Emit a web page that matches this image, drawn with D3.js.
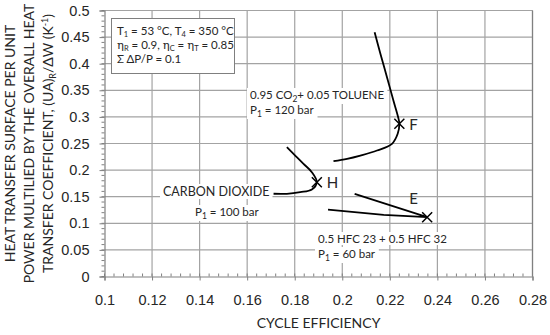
<!DOCTYPE html>
<html>
<head>
<meta charset="utf-8">
<script src="https://cdn.jsdelivr.net/npm/d3@7"></script>
<style>
  body { margin: 0; background: #fff; }
  svg { font-family: Lato, "Open Sans", sans-serif; }
</style>
</head>
<body>
<div id="chart"></div>
<script>
// values
var xTicks = [0.1, 0.12, 0.14, 0.16, 0.18, 0.2, 0.22, 0.24, 0.26, 0.28];
var yTicks = [0, 0.05, 0.1, 0.15, 0.2, 0.25, 0.3, 0.35, 0.4, 0.45, 0.5];

// 0.95 CO2 + 0.05 toluene, P1 = 120 bar
var curveF = [[0.2136, 0.4592], [0.2160, 0.4192], [0.2188, 0.3746], [0.2215, 0.3308],
  [0.2235, 0.2994], [0.2240, 0.2870], [0.2233, 0.2682], [0.2209, 0.2494],
  [0.2146, 0.2368], [0.2076, 0.2274], [0.2020, 0.2212], [0.1963, 0.2167]];
// carbon dioxide, P1 = 100 bar
var curveH = [[0.1767, 0.2430], [0.1802, 0.2274], [0.1837, 0.2118], [0.1872, 0.1961],
  [0.1893, 0.1773], [0.1872, 0.1635], [0.1823, 0.1585], [0.1767, 0.1555], [0.1711, 0.1555]];
// 0.5 HFC 23 + 0.5 HFC 32, P1 = 60 bar
var curveE = [[0.2052, 0.1555], [0.2357, 0.1115], [0.2174, 0.1160], [0.1940, 0.1259]];

var points = [
  {name: "F", x: 0.2240, y: 0.2870},
  {name: "H", x: 0.1893, y: 0.1773},
  {name: "E", x: 0.2357, y: 0.1115}
];

var width = 550, height = 335;
var x = d3.scaleLinear().domain([0.1, 0.28]).range([104.5, 532.5]);
var y = d3.scaleLinear().domain([0, 0.5]).range([276.5, 10.5]);

var svg = d3.select("#chart").append("svg")
  .attr("width", width)
  .attr("height", height);

var gridc = "#a3a3a3", axisc = "#808080", textc = "#262626";

// grid
var grid = svg.append("g").attr("class", "grid");
grid.selectAll("line.vx")
  .data(xTicks.slice(1))
  .enter().append("line").attr("class", "vx")
  .attr("x1", function(d){ return x(d); })
  .attr("x2", function(d){ return x(d); })
  .attr("y1", y(0)).attr("y2", y(0.5))
  .attr("stroke", gridc).attr("stroke-width", 1.2);

grid.selectAll("line.hy")
  .data(yTicks.slice(1))
  .enter().append("line").attr("class", "hy")
  .attr("y1", function(d){ return y(d); })
  .attr("y2", function(d){ return y(d); })
  .attr("x1", x(0.1)).attr("x2", x(0.28))
  .attr("stroke", gridc).attr("stroke-width", 1.2);

// right border
svg.append("line")
  .attr("x1", x(0.28)).attr("x2", x(0.28))
  .attr("y1", y(0)).attr("y2", y(0.5))
  .attr("stroke", axisc).attr("stroke-width", 1.2);

// axes
var fmt = function(d){ return String(+d.toFixed(2)); };
var xAxis = d3.axisBottom(x).tickValues(xTicks).tickSize(4).tickPadding(14).tickFormat(fmt);
var gx = svg.append("g").attr("transform", "translate(0," + y(0) + ")").call(xAxis);

var yAxis = d3.axisLeft(y).tickValues(yTicks).tickSize(5).tickPadding(10).tickFormat(fmt);
var gy = svg.append("g").attr("transform", "translate(" + x(0.1) + ",0)").call(yAxis);

[gx, gy].forEach(function(g){
  g.select(".domain").attr("stroke", axisc).attr("stroke-width", 1.2);
  g.selectAll(".tick line").attr("stroke", axisc);
  g.selectAll(".tick text").attr("fill", textc).style("font-size", "14.5px");
});

// minor ticks
var xMinor = d3.range(0.1, 0.2801, 0.004);
svg.append("g")
  .selectAll("line").data(xMinor).enter().append("line")
  .attr("x1", function(d){ return x(d); }).attr("x2", function(d){ return x(d); })
  .attr("y1", y(0) - 3).attr("y2", y(0))
  .attr("stroke", axisc);
var yMinor = d3.range(0, 0.5001, 0.01);
svg.append("g")
  .selectAll("line").data(yMinor).enter().append("line")
  .attr("y1", function(d){ return y(d); }).attr("y2", function(d){ return y(d); })
  .attr("x1", x(0.1) - 3).attr("x2", x(0.1))
  .attr("stroke", axisc);

// axis titles
svg.append("text")
  .attr("x", (x(0.1) + x(0.28)) / 2).attr("y", 328)
  .attr("text-anchor", "middle").attr("fill", textc)
  .style("font-size", "14px")
  .text("CYCLE EFFICIENCY");

var ytitle = svg.append("text")
  .attr("transform", "translate(0," + ((y(0) + y(0.5)) / 2) + ") rotate(-90)")
  .attr("text-anchor", "middle").attr("fill", textc)
  .style("font-size", "14px");
ytitle.append("tspan").attr("x", 0).attr("y", 15).text("HEAT TRANSFER SURFACE PER UNIT");
ytitle.append("tspan").attr("x", 0).attr("y", 34).text("POWER MULTILIED BY THE OVERALL HEAT");
var l3 = ytitle.append("tspan").attr("x", 0).attr("y", 53);
l3.append("tspan").text("TRANSFER COEFFICIENT, (UA)");
l3.append("tspan").attr("dy", 3).style("font-size", "9px").text("R");
l3.append("tspan").attr("dy", -3).text("/ΔW (K");
l3.append("tspan").attr("dy", -5).style("font-size", "9px").text("-1");
l3.append("tspan").attr("dy", 5).text(")");

// curves
var line = d3.line()
  .x(function(d){ return x(d[0]); })
  .y(function(d){ return y(d[1]); })
  .curve(d3.curveCatmullRom.alpha(0.5));
var lineStraight = d3.line()
  .x(function(d){ return x(d[0]); })
  .y(function(d){ return y(d[1]); });

svg.append("path").attr("d", line(curveF))
  .attr("fill", "none").attr("stroke", "#000").attr("stroke-width", 1.8);
svg.append("path").attr("d", line(curveH))
  .attr("fill", "none").attr("stroke", "#000").attr("stroke-width", 1.8);
svg.append("path").attr("d", lineStraight(curveE))
  .attr("fill", "none").attr("stroke", "#000").attr("stroke-width", 1.8);

// X markers
var m = svg.append("g").selectAll("g").data(points).enter().append("g")
  .attr("transform", function(d){ return "translate(" + x(d.x) + "," + y(d.y) + ")"; });
m.append("path").attr("d", "M-5,-5L5,5M-5,5L5,-5")
  .attr("stroke", "#000").attr("stroke-width", 1.5);

// labels with white backdrop
function label(px, py, parts, size, anchor) {
  var g = svg.append("g");
  var t = g.append("text").attr("x", px).attr("y", py)
    .attr("fill", textc).style("font-size", size + "px")
    .attr("text-anchor", anchor || "start");
  parts.forEach(function(p){
    var s = t.append("tspan").text(p.t);
    if (p.sub) s.attr("dy", 3).style("font-size", (size - 3) + "px");
    if (p.back) s.attr("dy", -3);
  });
  var b = t.node().getBBox();
  g.insert("rect", "text").attr("x", b.x - 3).attr("y", b.y)
    .attr("width", b.width + 6).attr("height", b.height).attr("fill", "#fff");
}

label(250, 99, [{t: "0.95 CO"}, {t: "2", sub: true}, {t: "+ 0.05 TOLUENE", back: true}], 11.5);
label(250, 114, [{t: "P"}, {t: "1", sub: true}, {t: " = 120 bar", back: true}], 11.5);
label(163, 196, [{t: "CARBON DIOXIDE"}], 12.5);
label(195, 216, [{t: "P"}, {t: "1", sub: true}, {t: " = 100 bar", back: true}], 11.5);
label(318, 243, [{t: "0.5 HFC 23 + 0.5 HFC 32"}], 11.5);
label(318, 258, [{t: "P"}, {t: "1", sub: true}, {t: " = 60 bar", back: true}], 11.5);

svg.selectAll(".pname").data(points).enter().append("text")
  .attr("class", "pname")
  .attr("x", function(d){ return x(d.x) + (d.name === "E" ? -18 : 10); })
  .attr("y", function(d){ return y(d.y) + (d.name === "E" ? -13 : 6); })
  .attr("fill", textc).style("font-size", "15px")
  .text(function(d){ return d.name; });

// condition box
var box = svg.append("g");
box.append("rect").attr("x", 111.5).attr("y", 18.5).attr("width", 123).attr("height", 55)
  .attr("fill", "#fff").attr("stroke", "#7f7f7f");
var c1 = box.append("text").attr("x", 117).attr("y", 35).attr("fill", textc).style("font-size", "11.5px");
c1.append("tspan").text("T");
c1.append("tspan").attr("dy", 2).style("font-size", "7.5px").text("1");
c1.append("tspan").attr("dy", -2).text(" = 53 °C, T");
c1.append("tspan").attr("dy", 2).style("font-size", "7.5px").text("4");
c1.append("tspan").attr("dy", -2).text(" = 350 °C");
var c2 = box.append("text").attr("x", 117).attr("y", 48.5).attr("fill", textc).style("font-size", "11.5px");
c2.append("tspan").style("font-family", "DejaVu Serif").text("η");
c2.append("tspan").attr("dy", 2).style("font-size", "7.5px").text("R");
c2.append("tspan").attr("dy", -2).text(" = 0.9, ");
c2.append("tspan").style("font-family", "DejaVu Serif").text("η");
c2.append("tspan").attr("dy", 2).style("font-size", "7.5px").text("C");
c2.append("tspan").attr("dy", -2).text(" = ");
c2.append("tspan").style("font-family", "DejaVu Serif").text("η");
c2.append("tspan").attr("dy", 2).style("font-size", "7.5px").text("T");
c2.append("tspan").attr("dy", -2).text(" = 0.85");
box.append("text").attr("x", 117).attr("y", 63).attr("fill", textc).style("font-size", "11.5px")
  .text("Σ ΔP/P = 0.1");
</script>
</body>
</html>
